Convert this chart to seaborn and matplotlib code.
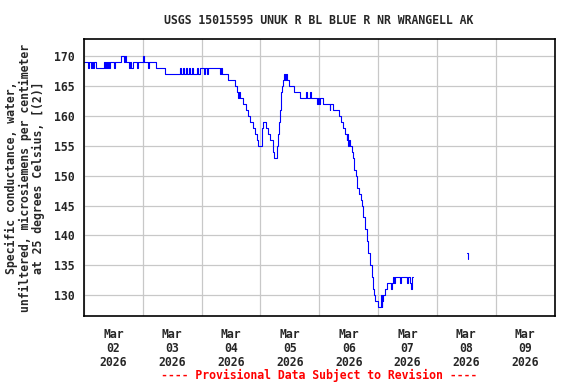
import numpy as np
import pandas as pd
import seaborn as sns
import matplotlib.pyplot as plt
import matplotlib.dates as mdates

# hours after 2026-03-02 00:00 and conductance readings (step data)
hours_a = [0.0, 1.8, 2.2, 2.8, 3.2, 3.8, 4.2, 4.7, 8.0, 8.4, 8.9, 9.3, 9.8, 10.3, 10.8, 12.3, 12.7,
           15.0, 16.2, 16.6, 17.2, 18.3, 18.8, 19.2, 19.8, 21.7, 22.1, 24.0, 24.6, 26.0, 26.4, 29.5,
           33.2, 39.0, 39.4, 40.6, 41.0, 41.8, 42.2, 42.8, 43.4, 44.2, 44.6, 46.2, 46.6, 47.5, 48.9,
           49.3, 50.3, 50.7, 55.5, 55.9, 56.3, 58.8, 61.6, 62.3, 63.0, 63.4, 63.8, 65.0, 66.2, 67.0,
           67.8, 69.0, 69.8, 70.5, 71.1, 72.5, 72.9, 74.3, 75.2, 75.9, 77.0, 77.5, 78.7, 79.2, 79.6,
           80.0, 80.5, 81.0, 81.4, 81.8, 82.2, 82.6, 83.0, 83.6, 85.8, 88.0, 90.5, 90.9, 92.2, 92.6,
           95.0, 95.4, 96.0, 96.4, 97.7, 100.2, 100.5, 101.5, 104.2, 105.0, 105.8, 106.5, 107.2,
           107.5, 107.8, 108.1, 108.5, 109.4, 109.7, 110.2, 111.0, 111.6, 112.4, 113.0, 113.3, 114.0,
           114.7, 115.4, 116.0, 116.7, 117.4, 117.8, 118.4, 118.8, 120.1, 121.2, 121.5, 121.8, 122.2,
           122.8, 123.5, 125.3, 125.6, 126.2, 126.6, 127.0, 128.9, 129.3, 131.6, 132.0, 132.4, 133.0,
           133.4, 133.7, 134.1]
cond_a = [169, 168, 169, 168, 169, 168, 169, 168, 169, 168, 169, 168, 169, 168, 169, 168, 169,
          170, 169, 170, 169, 168, 169, 168, 169, 168, 169, 170, 169, 168, 169, 168,
          167, 168, 167, 168, 167, 168, 167, 168, 167, 168, 167, 168, 167, 168, 167,
          168, 167, 168, 167, 168, 167, 166, 165, 164, 163, 164, 163, 162, 161, 160,
          159, 158, 157, 156, 155, 158, 159, 158, 157, 156, 154, 153, 155, 157, 159,
          161, 164, 165, 166, 167, 166, 167, 166, 165, 164, 163, 164, 163, 164, 163,
          162, 163, 162, 163, 162, 161, 162, 161, 160, 159, 158, 157, 156,
          157, 155, 156, 155, 154, 153, 151, 150, 148, 147, 146, 145, 143,
          141, 139, 137, 135, 133, 131, 130, 129, 128, 130, 128, 129, 130,
          131, 132, 131, 132, 133, 132, 133, 132, 133, 133, 132, 133, 132,
          131, 133, 133]
hours_b = [156.2, 156.5, 156.9]
cond_b = [137, 136, 136]

day_labels = ["Mar\n02\n2026", "Mar\n03\n2026", "Mar\n04\n2026", "Mar\n05\n2026",
              "Mar\n06\n2026", "Mar\n07\n2026", "Mar\n08\n2026", "Mar\n09\n2026"]

start = pd.Timestamp("2026-03-02")
df = pd.DataFrame({
    "time": start + pd.to_timedelta(hours_a + hours_b, unit="h"),
    "cond": cond_a + cond_b,
    "seg": [0] * len(hours_a) + [1] * len(hours_b),
})

sns.set_theme(style="whitegrid")
plt.rcParams["font.family"] = ["DejaVu Sans Mono"]
plt.rcParams["font.weight"] = "bold"
fs = 8.3

fig = plt.figure(figsize=(5.76, 3.84), dpi=100)
ax = fig.add_axes([84 / 576, 68 / 384, 470.5 / 576, 277 / 384])
sns.lineplot(data=df, x="time", y="cond", units="seg", estimator=None,
             color="#0000ff", lw=0.8, drawstyle="steps-post", ax=ax)

ax.set_xlim(start, start + pd.Timedelta(days=8))
ax.set_ylim(126.5, 172.9)
ax.set_yticks(range(130, 171, 5))
ax.tick_params(axis="y", labelsize=fs, length=0, pad=7)

ax.xaxis.set_major_locator(mdates.DayLocator())
ax.xaxis.set_major_formatter(plt.NullFormatter())
ax.set_xticks(start + pd.to_timedelta(np.arange(8) + 0.5, unit="D"), minor=True)
ax.set_xticklabels(day_labels, minor=True, fontsize=fs, fontweight="bold")
ax.tick_params(axis="x", which="both", length=0, pad=9, labelsize=fs)
for t in ax.get_xticklabels(minor=True):
    t.set_linespacing(1.05)
for t in ax.get_yticklabels():
    t.set_fontweight("bold")

ax.grid(True, which="major", color="#c8c8c8", lw=0.9)
ax.grid(False, which="minor")
ax.set_facecolor("white")
for s in ax.spines.values():
    s.set_color("black")
    s.set_linewidth(1.2)

ax.set_xlabel("")
ax.set_ylabel("")
fig.text(25 / 576, 1 - 178 / 384,
         "Specific conductance, water,\nunfiltered, microsiemens per centimeter\nat 25 degrees Celsius, [(2)]",
         rotation=90, ha="center", va="center", multialignment="center",
         fontsize=fs, fontweight="bold", linespacing=1.05)
fig.text(319 / 576, 1 - 20 / 384, "USGS 15015595 UNUK R BL BLUE R NR WRANGELL AK",
         ha="center", va="center", fontsize=fs, fontweight="bold")
fig.text(319 / 576, 1 - 375 / 384, "---- Provisional Data Subject to Revision ----",
         ha="center", va="center", fontsize=fs, fontweight="bold", color="red")

fig.savefig("out.png", dpi=100, facecolor="white")
